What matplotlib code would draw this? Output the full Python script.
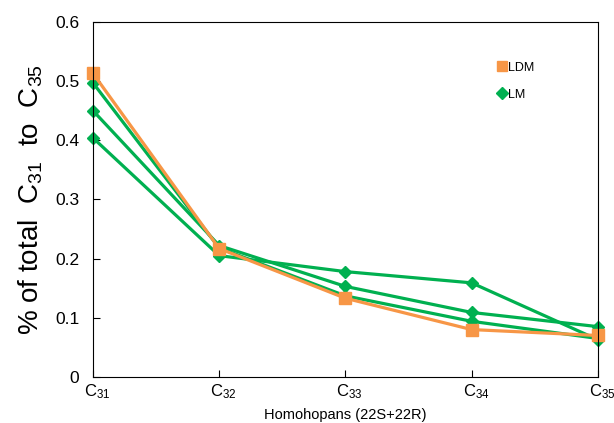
import matplotlib.pyplot as plt
from matplotlib.transforms import ScaledTranslation

plt.rcParams['font.family'] = ['Liberation Sans', 'DejaVu Sans']
plt.rcParams['mathtext.fontset'] = 'custom'
plt.rcParams['mathtext.rm'] = 'Liberation Sans'
plt.rcParams['mathtext.it'] = 'Liberation Sans:italic'

# Homohopane distribution C31..C35
categories = ['C$_{31}$', 'C$_{32}$', 'C$_{33}$', 'C$_{34}$', 'C$_{35}$']
ldm = [0.513, 0.217, 0.133, 0.080, 0.070]
lm_a = [0.404, 0.205, 0.178, 0.159, 0.063]
lm_b = [0.450, 0.222, 0.153, 0.109, 0.085]
lm_c = [0.497, 0.218, 0.137, 0.094, 0.065]
yticks = [0, 0.1, 0.2, 0.3, 0.4, 0.5, 0.6]
ylabels = ['0', '0.1', '0.2', '0.3', '0.4', '0.5', '0.6']

orange = '#F79646'
green = '#00B050'

fig = plt.figure(figsize=(6.14, 4.23), dpi=100)
ax = fig.add_axes([0.1515, 0.109, 0.822, 0.839])

x = range(len(categories))
lmLine = None
for s in [lm_a, lm_b, lm_c]:
  lmLine, = ax.plot(x, s, color=green, lw=2.3, marker='D', ms=6.5, label='LM', clip_on=False)
ldmLine, = ax.plot(x, ldm, color=orange, lw=2.3, marker='s', ms=8.5, label='LDM', clip_on=False)

ax.set_xlim(0, 4)
ax.set_ylim(0, 0.6)
ax.set_xticks(list(x))
ax.set_xticklabels(categories, fontsize=12)
ax.set_yticks(yticks)
ax.set_yticklabels(ylabels, fontsize=12.5)
ax.tick_params(axis='both', direction='in', length=5, width=0.8)
ax.tick_params(axis='y', pad=10)
ax.tick_params(axis='x', pad=4)
# labels sit slightly right of their ticks, as in the original
for lab in ax.get_xticklabels():
  lab.set_horizontalalignment('left')
  lab.set_transform(lab.get_transform() + ScaledTranslation(-0.09, 0, fig.dpi_scale_trans))

ax.set_xlabel('Homohopans (22S+22R)', fontsize=10.5, labelpad=5)
ax.set_ylabel('% of total  C$_{31}$  to  C$_{35}$', fontsize=20, labelpad=7)

ax.legend([ldmLine, lmLine], ['LDM', 'LM'], loc='upper left', bbox_to_anchor=(0.78, 0.92),
          frameon=False, fontsize=9, handlelength=0.6, handletextpad=0.2, labelspacing=1.2,
          markerscale=0.9)
for h in ax.get_legend().get_lines():
  h.set_linestyle('none')

fig.savefig('out.png', dpi=100)
